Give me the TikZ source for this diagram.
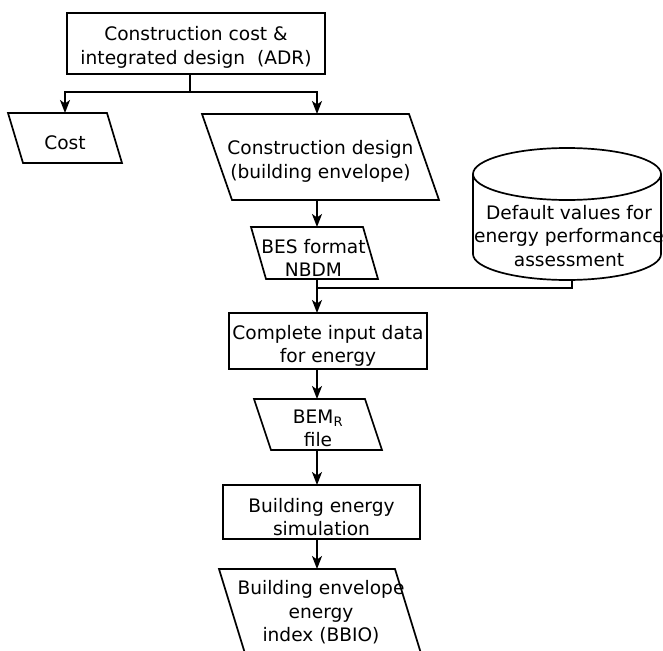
\documentclass[tikz,border=0pt]{standalone}
\usepackage{fontspec}
\setmainfont{DejaVu Sans}
\usetikzlibrary{arrows.meta}
\tikzset{
  ln/.style={line width=1.7pt, draw=black},
  arr/.style={ln, -{Stealth[length=13pt,width=10pt,inset=3.5pt]}},
  txt/.style={align=center, font=\fontsize{18.6}{23.5}\selectfont, inner sep=0pt, outer sep=0pt},
  boxnode/.style={draw, line width=1.7pt, inner sep=0pt, outer sep=0pt},
  paranode/.style={inner sep=0pt, outer sep=0pt},
}
\newcommand{\drawpara}[2]{\draw[ln, line join=miter] (#1.north west) -- ([xshift=-#2]#1.north east) -- (#1.south east) -- ([xshift=#2]#1.south west) -- cycle;}
\begin{document}
\begin{tikzpicture}[x=1pt,y=-1pt]
\useasboundingbox (0,0) rectangle (663,650);
\clip (0,0) rectangle (663,650);

% shapes
\node[boxnode, minimum width=258pt, minimum height=61pt] (adr) at (196,43.5) {};
\node[txt] (adrT) at ([yshift=-4pt]adr.center) {Construction cost \&\\integrated design\ \ (ADR)};

\node[paranode, minimum width=114pt, minimum height=50pt] (cost) at (65,138) {};
\drawpara{cost}{15pt}
\node[txt] (costT) at ([yshift=-5pt]cost.center) {Cost};

\node[paranode, minimum width=237pt, minimum height=86pt] (cd) at (320.5,157) {};
\drawpara{cd}{30pt}
\node[txt] (cdT) at ([yshift=-4.5pt]cd.center) {Construction design\\(building envelope)};

\node[paranode, minimum width=127pt, minimum height=52pt] (bes) at (314.5,253) {};
\drawpara{bes}{15pt}
\node[txt] (besT) at ([xshift=-1pt,yshift=-5pt]bes.center) {BES format\\NBDM};

\node[boxnode, minimum width=198pt, minimum height=56pt] (cin) at (328,341) {};
\node[txt] (cinT) at ([yshift=-5pt]cin.center) {Complete input data\\for energy};

\node[paranode, minimum width=128pt, minimum height=51pt] (bem) at (318,424.5) {};
\drawpara{bem}{17pt}
\node[txt] (bemT) at ([yshift=-4pt]bem.center) {BEM\textsubscript{R}\\file};

\node[boxnode, minimum width=197pt, minimum height=54pt] (sim) at (321.5,512) {};
\node[txt] (simT) at ([yshift=-5pt]sim.center) {Building energy\\simulation};

\node[paranode, minimum width=204pt, minimum height=91pt] (bbio) at (321,614.5) {};
\drawpara{bbio}{28pt}
\node[txt] (bbioT) at ([yshift=2pt]bbio.center) {Building envelope\\energy\\index (BBIO)};

% cylinder
\draw[ln] (567,174) ellipse[x radius=94pt, y radius=26pt];
\draw[ln] (473,174) -- (473,254) arc[start angle=180, end angle=360, x radius=94pt, y radius=26pt] -- (661,174);
\node[txt] (db) at (569,236) {Default values for\\energy performance\\assessment};

% connectors
\coordinate (col) at (317,0);
\coordinate (j1) at (190,92);
\coordinate (j2) at (317,288);
\coordinate (dbb) at (572,280);
\draw[ln] (adr.south -| j1) -- (j1);
\draw[arr] (j1) -| (cost.north);
\draw[arr] (j1) -| (cd.north -| col);
\draw[arr] (cd.south -| col) -- (bes.north -| col);
\draw[arr] (bes.south -| col) -- (cin.north -| col);
\draw[ln] (dbb) |- (j2);
\draw[arr] (cin.south -| col) -- (bem.north -| col);
\draw[arr] (bem.south -| col) -- (sim.north -| col);
\draw[arr] (sim.south -| col) -- (bbio.north -| col);
\end{tikzpicture}
\end{document}
